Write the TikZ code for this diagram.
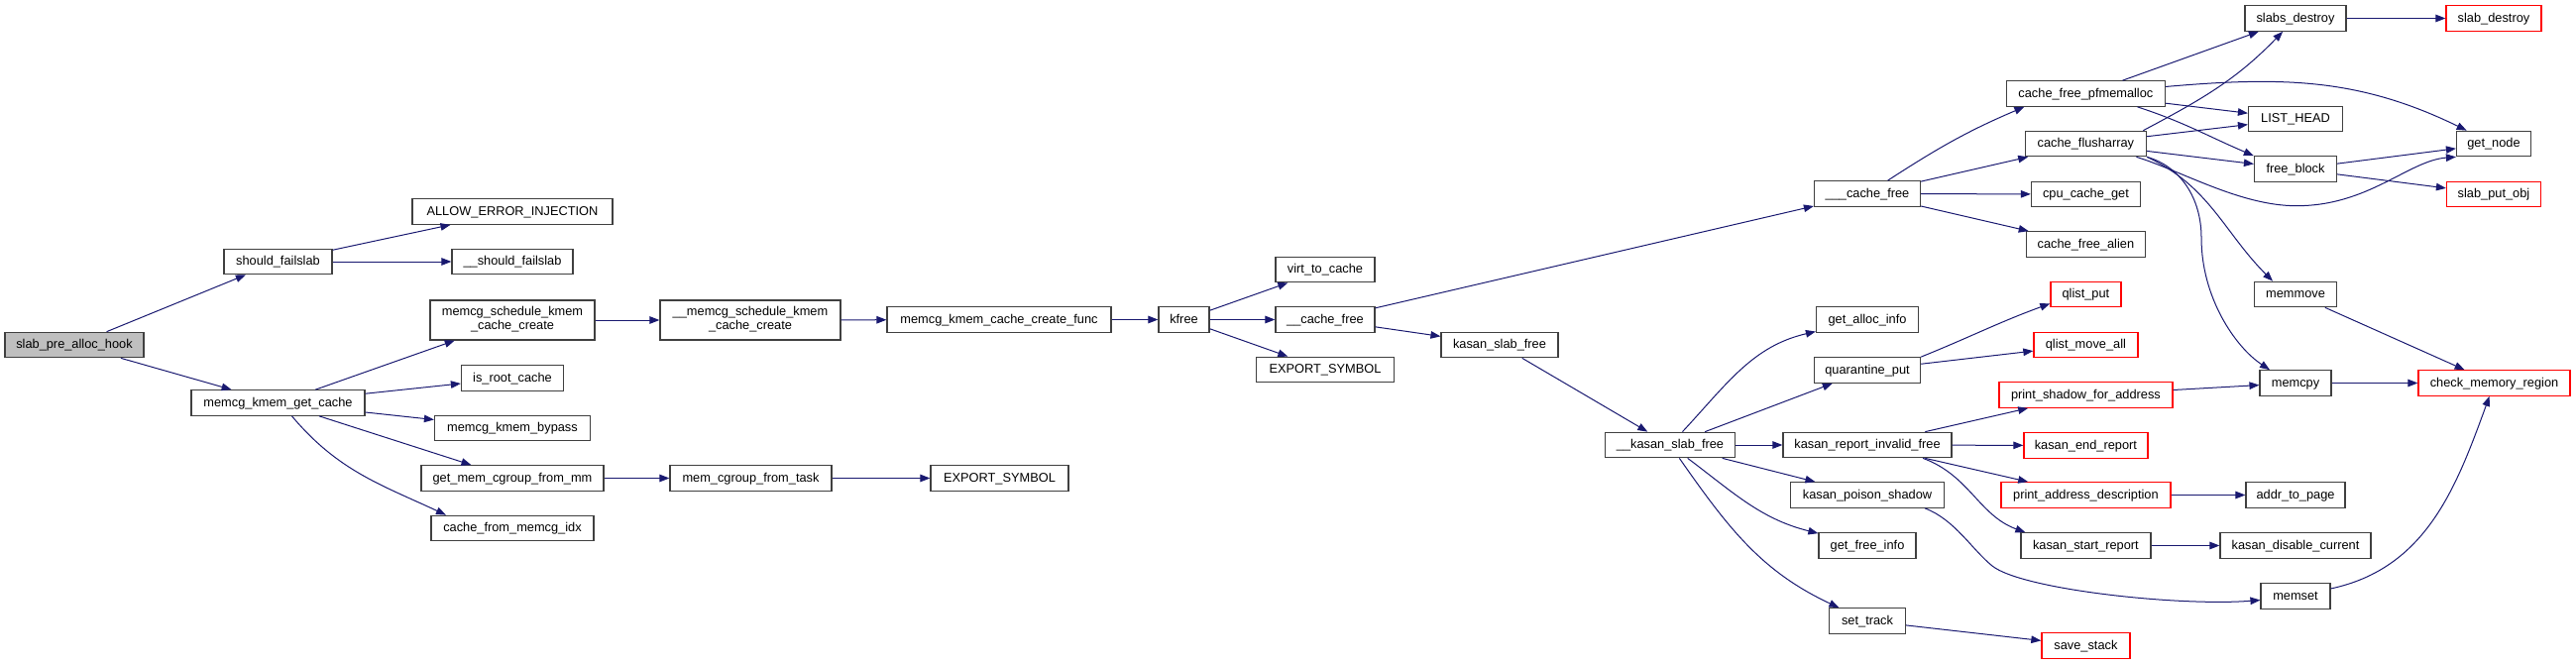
\documentclass[tikz,border=0pt]{standalone}
\usepackage{fontspec}
\setmainfont{Liberation Sans}
\usepackage{tikz}
\usetikzlibrary{arrows.meta}
\definecolor{edgeblue}{HTML}{191970}
\definecolor{boxline}{HTML}{404040}
\definecolor{extred}{HTML}{FF0000}
\definecolor{rootgray}{HTML}{BFBFBF}

\begin{document}
\begin{tikzpicture}[x=1pt,y=1pt,
  fn/.style={draw=boxline,line width=1.2pt,fill=white,inner sep=0pt,minimum height=25.5pt,text height=9.4pt,text depth=2pt,font=\fontsize{12.8}{14}\selectfont},
  fntwo/.style={fn,minimum height=40,align=center,text height=23.4pt,text depth=5.4pt},
  fnred/.style={fn,draw=extred},
  call/.style={edgeblue,line width=1pt,-{Triangle[length=10pt,width=7.5pt]}}]
\useasboundingbox (0,0) rectangle (2599,-671);
\node[fn,fill=rootgray,minimum width=140] (slab) at (75,-348) {slab\_pre\_alloc\_hook};
\node[fn,minimum width=109] (sf) at (280.5,-264) {should\_failslab};
\node[fn,minimum width=175] (mkgc) at (280.5,-406.5) {memcg\_kmem\_get\_cache};
\node[fn,minimum width=202] (aei) at (517,-213.5) {ALLOW\_ERROR\_INJECTION};
\node[fn,minimum width=122] (usf) at (517,-264) {\_\_should\_failslab};
\node[fntwo,minimum width=166] (msk) at (517,-323) {memcg\_schedule\_kmem\\\_cache\_create};
\node[fn,minimum width=103] (irc) at (517,-381.5) {is\_root\_cache};
\node[fn,minimum width=157] (mkb) at (517,-432) {memcg\_kmem\_bypass};
\node[fn,minimum width=184] (gmc) at (517,-482.5) {get\_mem\_cgroup\_from\_mm};
\node[fn,minimum width=164] (cfmi) at (517,-533) {cache\_from\_memcg\_idx};
\node[fntwo,minimum width=182] (umsk) at (757,-323) {\_\_memcg\_schedule\_kmem\\\_cache\_create};
\node[fn,minimum width=163] (mcft) at (757.5,-482.5) {mem\_cgroup\_from\_task};
\node[fn,minimum width=226] (mkccf) at (1008,-322.5) {memcg\_kmem\_cache\_create\_func};
\node[fn,minimum width=139] (exsa) at (1008.5,-482.5) {EXPORT\_SYMBOL};
\node[fn,minimum width=51] (kfree) at (1194.5,-322.5) {kfree};
\node[fn,minimum width=100] (vtc) at (1337,-272) {virt\_to\_cache};
\node[fn,minimum width=100] (ucf) at (1337,-322.5) {\_\_cache\_free};
\node[fn,minimum width=139] (exsb) at (1337,-373) {EXPORT\_SYMBOL};
\node[fn,minimum width=118] (ksf) at (1513,-348) {kasan\_slab\_free};
\node[fn,minimum width=131] (uksf) at (1685,-449) {\_\_kasan\_slab\_free};
\node[fn,minimum width=107] (uucf) at (1884,-195.5) {\_\_\_cache\_free};
\node[fn,minimum width=103] (gai) at (1884,-322.5) {get\_alloc\_info};
\node[fn,minimum width=107] (qp) at (1884,-373.5) {quarantine\_put};
\node[fn,minimum width=170] (krif) at (1884,-449) {kasan\_report\_invalid\_free};
\node[fn,minimum width=155] (kps) at (1884,-499.5) {kasan\_poison\_shadow};
\node[fn,minimum width=98] (gfi) at (1884,-550.5) {get\_free\_info};
\node[fn,minimum width=77] (st) at (1884,-626.5) {set\_track};
\node[fn,minimum width=160] (cfp) at (2104.4,-94.5) {cache\_free\_pfmemalloc};
\node[fn,minimum width=122] (cfa) at (2104.4,-145) {cache\_flusharray};
\node[fn,minimum width=110] (ccg) at (2104.4,-196) {cpu\_cache\_get};
\node[fn,minimum width=120] (cfal) at (2104.4,-246.5) {cache\_free\_alien};
\node[fnred,minimum width=71] (qlp) at (2104.4,-297) {qlist\_put};
\node[fnred,minimum width=105] (qlma) at (2104.4,-348) {qlist\_move\_all};
\node[fnred,minimum width=175] (psfa) at (2104.4,-398.5) {print\_shadow\_for\_address};
\node[fnred,minimum width=125] (ker) at (2104.4,-449.5) {kasan\_end\_report};
\node[fnred,minimum width=171] (pad) at (2104.4,-499.5) {print\_address\_description};
\node[fn,minimum width=131] (ksr) at (2104.4,-550.5) {kasan\_start\_report};
\node[fnred,minimum width=89] (ss) at (2104.4,-651.5) {save\_stack};
\node[fn,minimum width=102] (sd) at (2316,-18.5) {slabs\_destroy};
\node[fn,minimum width=95] (lh) at (2316,-120) {LIST\_HEAD};
\node[fn,minimum width=83] (fb) at (2316,-170.5) {free\_block};
\node[fn,minimum width=83] (mm) at (2316,-297) {memmove};
\node[fn,minimum width=72] (mc) at (2316,-386.5) {memcpy};
\node[fn,minimum width=100] (atp) at (2316,-499.5) {addr\_to\_page};
\node[fn,minimum width=152] (kdc) at (2316,-550.5) {kasan\_disable\_current};
\node[fn,minimum width=70] (ms) at (2316,-601.5) {memset};
\node[fnred,minimum width=96] (sld) at (2516,-18.5) {slab\_destroy};
\node[fn,minimum width=75] (gn) at (2516,-145) {get\_node};
\node[fnred,minimum width=95] (spo) at (2516,-196) {slab\_put\_obj};
\node[fnred,minimum width=153] (cmr) at (2516.5,-386.5) {check\_memory\_region};
\foreach \a/\b in {slab/sf,slab/mkgc,sf/aei,sf/usf,mkgc/msk,mkgc/irc,mkgc/mkb,mkgc/gmc,msk/umsk,umsk/mkccf,mkccf/kfree,gmc/mcft,mcft/exsa,kfree/vtc,kfree/ucf,kfree/exsb,ucf/uucf,ucf/ksf,ksf/uksf,uksf/qp,uksf/krif,uksf/kps,uucf/cfa,uucf/ccg,uucf/cfal,cfp/sd,cfp/lh,cfa/lh,cfa/fb,sd/sld,fb/gn,fb/spo,mm/cmr,qp/qlma,krif/psfa,krif/ker,krif/pad,psfa/mc,pad/atp,ksr/kdc,mc/cmr,st/ss}
  \draw[call] (\a) -- (\b);
\draw[call] ([xshift=14pt]mkgc.south) to[out=-50,in=155] ([xshift=-67pt]cfmi.north);
\draw[call] (uksf) to[out=47,in=-167] (gai);
\draw[call] (uksf) to[out=-37,in=166] (gfi);
\draw[call] (uksf) to[out=-55,in=155] (st);
\draw[call] (uucf) to[out=33,in=-157] ([xshift=-62pt]cfp.south);
\draw[call] (cfp) to[out=5,in=154] (gn);
\draw[call] ([xshift=52pt]cfp.south) to[out=-18,in=157] (fb.north west);
\draw[call] ([xshift=58pt]cfa.north) to[out=28,in=-134] (sd);
\draw[call] ([xshift=51pt]cfa.south) .. controls (2200,-172) and (2260,-207.7) .. (2317,-207.7) .. controls (2390,-207.7) and (2430,-162) .. (gn.south west);
\draw[call] (cfa.south east) to[out=-25,in=135] ([xshift=-23pt]mm.north);
\draw[call] (cfa.south east) .. controls (2200,-168) and (2221,-200) .. (2221,-240) .. controls (2221,-300) and (2255,-350) .. ([xshift=-26pt]mc.north);
\draw[call] (qp.north east) to[out=22,in=-160] ([yshift=4pt]qlp.south west);
\draw[call] ([xshift=56pt]krif.south) to[out=-20,in=160] ([xshift=-61pt]ksr.north);
\draw[call] ([xshift=58pt]kps.south) .. controls (1972,-524) and (1990,-555) .. (2010,-571) .. controls (2040,-595) and (2200,-612) .. ([yshift=-4pt]ms.west);
\draw[call] (ms) to[out=12,in=-110] (cmr);
\end{tikzpicture}
\end{document}
